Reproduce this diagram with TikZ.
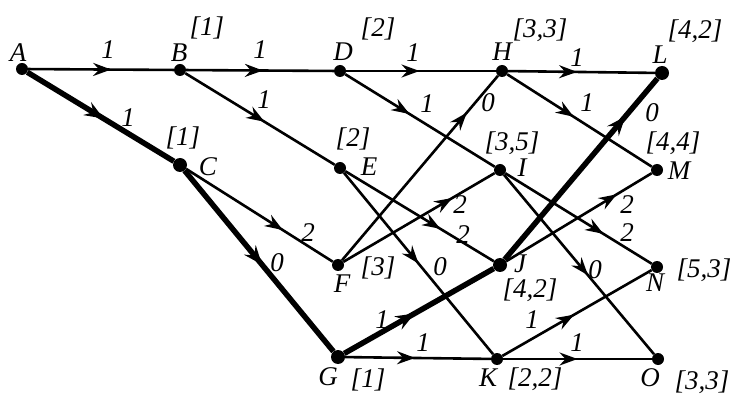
\documentclass[tikz,border=0pt]{standalone}
\usepackage{fontspec}
\setmainfont{Liberation Serif}
\usetikzlibrary{arrows.meta,decorations.markings}
\tikzset{
  dot/.style={circle,fill=black,inner sep=0pt,minimum size=12pt},
  bigdot/.style={circle,fill=black,inner sep=0pt,minimum size=14pt},
  edge/.style={line width=2.6pt,postaction={decorate},
    decoration={markings,mark=at position #1 with {\arrow{Stealth[length=18pt,width=13pt,inset=6pt]}}}},
  edge/.default=0.5,
  thickedge/.style={line width=5.5pt,postaction={decorate},
    decoration={markings,mark=at position #1 with {\arrow{Stealth[length=19pt,width=15pt,inset=7pt]}}}},
  thickedge/.default=0.5,
  txt/.style={inner sep=0pt,font=\fontsize{27}{30}\selectfont\itshape},
}
\begin{document}
\begin{tikzpicture}[x=1pt,y=-1pt]
\useasboundingbox (0,0) rectangle (736,395);
% vertices
\node[dot] (A) at (22,69) {};
\node[dot] (B) at (180,70) {};
\node[dot] (D) at (340,71) {};
\node[dot] (H) at (502,71) {};
\node[bigdot] (L) at (662,73) {};
\node[bigdot] (C) at (180,165) {};
\node[dot] (E) at (340,168) {};
\node[dot] (I) at (500,170) {};
\node[dot] (M) at (657,170) {};
\node[dot] (F) at (338,265) {};
\node[bigdot] (J) at (500,265) {};
\node[dot] (N) at (657,267) {};
\node[bigdot] (G) at (338,357) {};
\node[dot] (K) at (497,359) {};
\node[dot] (O) at (658,359) {};
% thin edges
\draw[edge=0.57] (A) -- (B);
\draw[edge=0.52] (B) -- (D);
\draw[edge=0.53] (B) -- (E);
\draw[edge=0.49] (D) -- (H);
\draw[edge=0.43] (D) -- (I);
\draw[edge=0.47] (H) -- (L);
\draw[edge=0.46] (H) -- (M);
\draw[edge=0.66] (C) -- (F);
\draw[edge=0.64] (E) -- (J);
\draw[edge=0.50] (E) -- (K);
\draw[edge=0.80] (F) -- (H);
\draw[edge=0.72] (F) -- (I);
\draw[edge=0.67] (I) -- (N);
\draw[edge=0.56] (I) -- (O);
\draw[edge=0.76] (J) -- (M);
\draw[edge=0.48] (G) -- (K);
\draw[edge=0.48] (K) -- (N);
\draw[edge=0.50] (K) -- (O);
% thick (critical) path
\draw[thickedge=0.52] (A) -- (C);
\draw[thickedge=0.52] (C) -- (G);
\draw[thickedge=0.47] (G) -- (J);
\draw[thickedge=0.79] (J) -- (L);
% vertex letters
\node[txt] (lA) at (18,53) {A};
\node[txt] (lB) at (179,53) {B};
\node[txt] (lD) at (343,52) {D};
\node[txt] (lH) at (502,52) {H};
\node[txt] (lL) at (660,55) {L};
\node[txt] (lC) at (208,167) {C};
\node[txt] (lE) at (369,167) {E};
\node[txt] (lI) at (522,168) {I};
\node[txt] (lM) at (679,171) {M};
\node[txt] (lF) at (342,284) {F};
\node[txt] (lJ) at (520,264) {J};
\node[txt] (lN) at (655,283) {N};
\node[txt] (lG) at (328,377) {G};
\node[txt] (lK) at (488,378) {K};
\node[txt] (lO) at (650,378) {O};
% vertex values
\node[txt] (vB) at (207,28) {[1]};
\node[txt] (vD) at (378,29) {[2]};
\node[txt] (vH) at (540,30) {[3,3]};
\node[txt] (vL) at (695,31) {[4,2]};
\node[txt] (vC) at (183,138) {[1]};
\node[txt] (vE) at (353,139) {[2]};
\node[txt] (vI) at (512,143) {[3,5]};
\node[txt] (vM) at (673,143) {[4,4]};
\node[txt] (vF) at (378,268) {[3]};
\node[txt] (vJ) at (530,290) {[4,2]};
\node[txt] (vN) at (704,270) {[5,3]};
\node[txt] (vG) at (368,380) {[1]};
\node[txt] (vK) at (535,379) {[2,2]};
\node[txt] (vO) at (702,382) {[3,3]};
% edge weights
\node[txt] (wAB) at (108,50) {1};
\node[txt] (wAC) at (128,118) {1};
\node[txt] (wBD) at (260,50) {1};
\node[txt] (wBE) at (264,100) {1};
\node[txt] (wDH) at (413,53) {1};
\node[txt] (wDI) at (427,104) {1};
\node[txt] (wHL) at (577,58) {1};
\node[txt] (wHM) at (587,103) {1};
\node[txt] (wCF) at (308,233) {2};
\node[txt] (wCG) at (277,263) {0};
\node[txt] (wEJ) at (463,235) {2};
\node[txt] (wEK) at (440,267) {0};
\node[txt] (wFH) at (488,103) {0};
\node[txt] (wFI) at (460,205) {2};
\node[txt] (wIN) at (627,233) {2};
\node[txt] (wIO) at (595,270) {0};
\node[txt] (wJL) at (652,113) {0};
\node[txt] (wJM) at (627,205) {2};
\node[txt] (wGJ) at (382,320) {1};
\node[txt] (wGK) at (423,343) {1};
\node[txt] (wKN) at (532,320) {1};
\node[txt] (wKO) at (577,343) {1};
\end{tikzpicture}
\end{document}
